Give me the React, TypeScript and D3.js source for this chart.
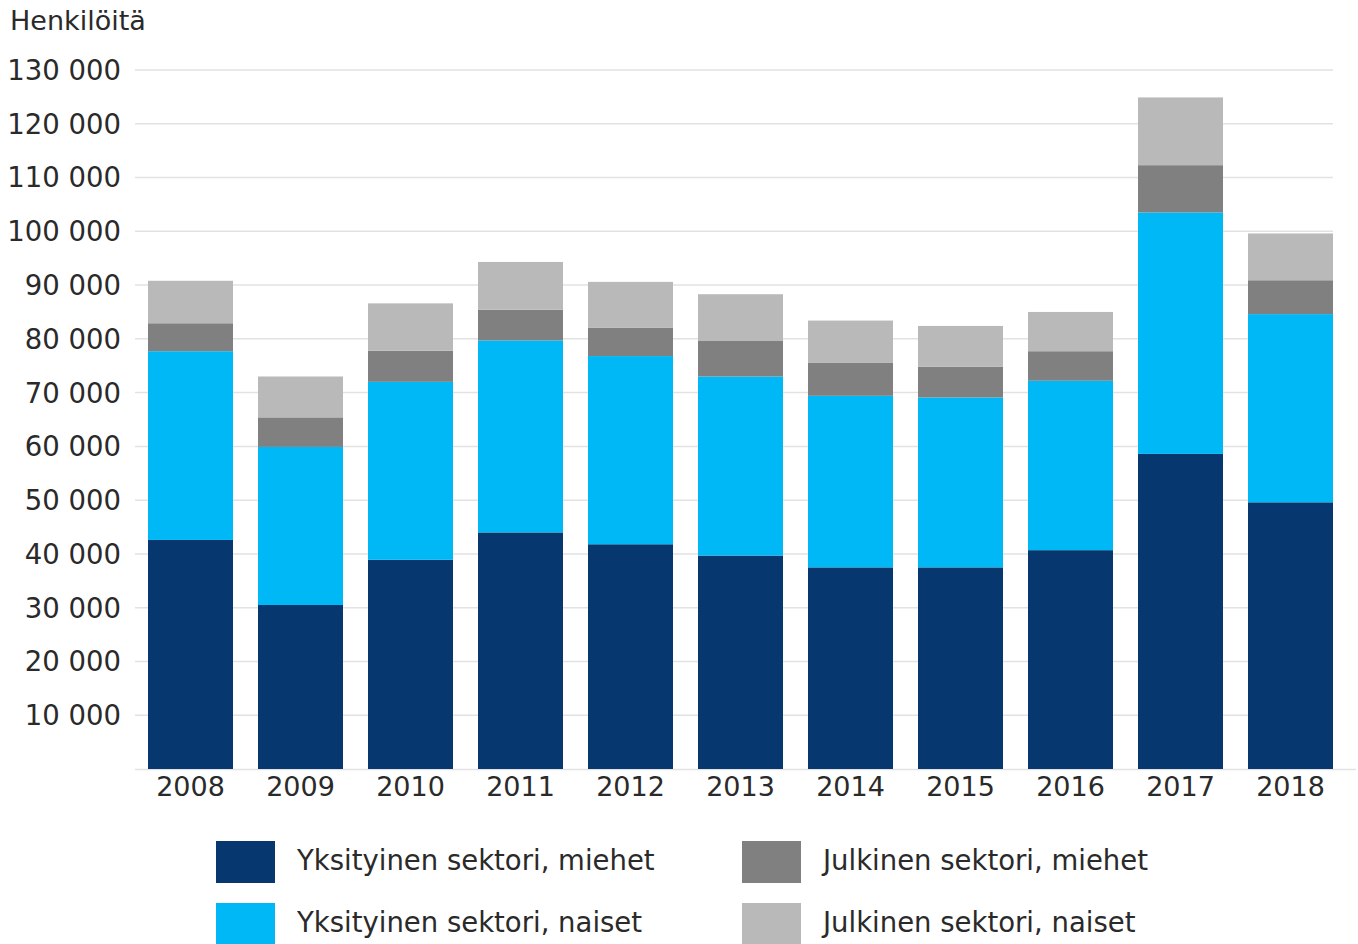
import React from "react";
import * as d3 from "d3";

const years = ["2008", "2009", "2010", "2011", "2012", "2013", "2014", "2015", "2016", "2017", "2018"];
const privateMen = [42600, 30500, 38900, 44000, 41800, 39700, 37500, 37500, 40700, 58600, 49600];
const privateWomen = [35100, 29400, 33100, 35700, 35000, 33300, 31900, 31600, 31500, 44900, 35000];
const publicMen = [5200, 5500, 5800, 5700, 5300, 6600, 6200, 5700, 5500, 8800, 6300];
const publicWomen = [7900, 7600, 8800, 8900, 8500, 8700, 7800, 7600, 7300, 12600, 8700];
const seriesNames = [
  "Yksityinen sektori, miehet",
  "Yksityinen sektori, naiset",
  "Julkinen sektori, miehet",
  "Julkinen sektori, naiset",
];
const yTicks = [10000, 20000, 30000, 40000, 50000, 60000, 70000, 80000, 90000, 100000, 110000, 120000, 130000];
const colors = ["#06386f", "#00b8f6", "#808080", "#b9b9b9"];
const yTitle = "Henkilöitä";

const W = 1358;
const H = 944;
const FONT = "'DejaVu Sans', Verdana, sans-serif";

export default function App() {
  const x = d3.scaleBand<string>().domain(years).range([135.5, 1345.5]).paddingInner(25 / 110).paddingOuter(25 / 220);
  const y = d3.scaleLinear().domain([0, 130000]).range([769, 70]);

  const rows = years.map((yr, i) => ({
    year: yr,
    s0: privateMen[i],
    s1: privateWomen[i],
    s2: publicMen[i],
    s3: publicWomen[i],
  }));
  const keys = ["s0", "s1", "s2", "s3"];
  const stacked = d3.stack<any>().keys(keys)(rows);
  const fmt = (v: number) => d3.format(",")(v).replace(/,/g, " ");

  const legendItems = [
    { name: seriesNames[0], color: colors[0], x: 216, y: 841 },
    { name: seriesNames[2], color: colors[2], x: 742, y: 841 },
    { name: seriesNames[1], color: colors[1], x: 216, y: 903 },
    { name: seriesNames[3], color: colors[3], x: 742, y: 903 },
  ];

  return (
    <svg width={W} height={H} style={{ position: "absolute", left: 0, top: 0, background: "#fff" }} fontFamily={FONT}>
      <text x={10} y={30} fontSize={27} fill="#2a2a2a">{yTitle}</text>
      {yTicks.map((t) => (
        <g key={t}>
          <line x1={135} x2={1333} y1={y(t)} y2={y(t)} stroke="#e2e2e2" strokeWidth={1.5} />
          <text x={121} y={y(t)} dy="0.36em" textAnchor="end" fontSize={27.5} fill="#2a2a2a">{fmt(t)}</text>
        </g>
      ))}
      <line x1={135} x2={1356} y1={y(0) + 0.5} y2={y(0) + 0.5} stroke="#e2e2e2" strokeWidth={1.5} />
      {stacked.map((layer, li) => (
        <g key={li} fill={colors[li]}>
          {layer.map((d: any, i: number) => (
            <rect
              key={i}
              x={x(years[i])}
              width={x.bandwidth()}
              y={y(d[1])}
              height={y(d[0]) - y(d[1])}
            />
          ))}
        </g>
      ))}
      {years.map((yr) => (
        <text key={yr} x={(x(yr) as number) + x.bandwidth() / 2} y={796} textAnchor="middle" fontSize={27} fill="#2a2a2a">{yr}</text>
      ))}
      {legendItems.map((it) => (
        <g key={it.name}>
          <rect x={it.x} y={it.y} width={59} height={42} fill={it.color} />
          <text x={it.x + 81} y={it.y + 29} fontSize={27.5} fill="#2a2a2a">{it.name}</text>
        </g>
      ))}
    </svg>
  );
}
